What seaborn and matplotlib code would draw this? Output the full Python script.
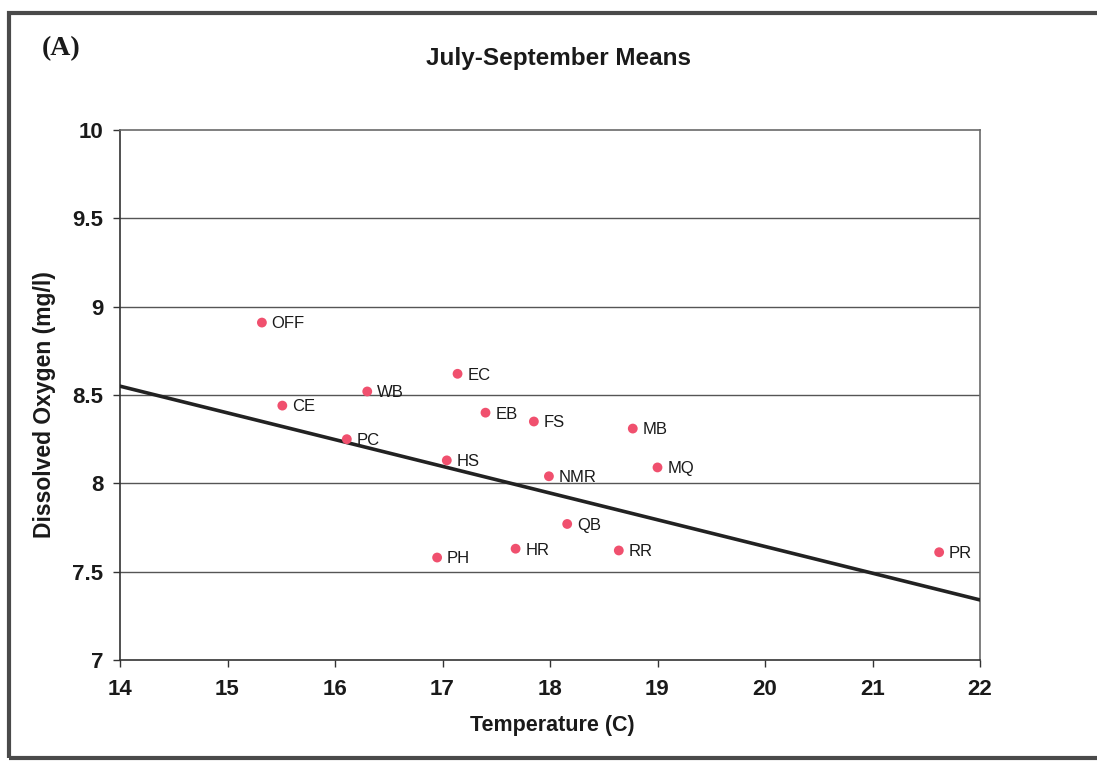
import matplotlib
matplotlib.use("Agg")
import matplotlib.pyplot as plt
import seaborn as sns
import pandas as pd
from matplotlib.patches import Rectangle

# Station means, July-September
stations = ["OFF", "CE", "PC", "WB", "PH", "HS", "EC", "EB", "HR",
            "FS", "NMR", "QB", "RR", "MB", "MQ", "PR"]
temperature = [15.32, 15.51, 16.11, 16.30, 16.95, 17.04, 17.14, 17.40, 17.68,
               17.85, 17.99, 18.16, 18.64, 18.77, 19.00, 21.62]
dissolved_oxygen = [8.91, 8.44, 8.25, 8.52, 7.58, 8.13, 8.62, 8.40, 7.63,
                    8.35, 8.04, 7.77, 7.62, 8.31, 8.09, 7.61]

# Linear trend line end points
trend_temp = [14, 22]
trend_do = [8.55, 7.34]

x_ticks = [14, 15, 16, 17, 18, 19, 20, 21, 22]
y_ticks = [7, 7.5, 8, 8.5, 9, 9.5, 10]
y_tick_labels = ["7", "7.5", "8", "8.5", "9", "9.5", "10"]

df = pd.DataFrame({"station": stations, "temp": temperature, "do": dissolved_oxygen})
trend = pd.DataFrame({"temp": trend_temp, "do": trend_do})

sns.set_theme(style="ticks")
plt.rcParams["font.family"] = ["Liberation Sans", "DejaVu Sans"]

W, H = 1097, 765
fig = plt.figure(figsize=(W / 100, H / 100), dpi=100)
fig.patch.set_facecolor("white")

ax = fig.add_axes([120 / W, 1 - 660 / H, 860 / W, 530 / H])

ax.set_xlim(14, 22)
ax.set_ylim(7, 10)

# horizontal grid lines
for yv in y_ticks[1:-1]:
    ax.axhline(yv, color="#555555", lw=1.0, zorder=1)

sns.lineplot(data=trend, x="temp", y="do", ax=ax, color="#222222", lw=2.6, zorder=3)
sns.scatterplot(data=df, x="temp", y="do", ax=ax, color="#F0506E",
                s=50, edgecolor="none", zorder=4)

for name, xv, yv in zip(stations, temperature, dissolved_oxygen):
    ax.annotate(name, (xv, yv), xytext=(7, -1), textcoords="offset points",
                ha="left", va="center", fontsize=12, color="#1a1a1a", zorder=5)

ax.set_xticks(x_ticks)
ax.set_xticklabels([str(t) for t in x_ticks])
ax.set_yticks(y_ticks)
ax.set_yticklabels(y_tick_labels)
ax.tick_params(axis="both", which="major", direction="out", length=5, width=1,
               color="#333333", labelsize=16, labelcolor="#1a1a1a",
               bottom=True, left=True, top=False, right=False)
ax.tick_params(axis="x", pad=9)
ax.tick_params(axis="y", pad=7)
for lbl in ax.get_xticklabels() + ax.get_yticklabels():
    lbl.set_fontweight("bold")

ax.set_xlabel("")
ax.set_ylabel("")

for side in ["left", "bottom"]:
    ax.spines[side].set_visible(True)
    ax.spines[side].set_color("#333333")
    ax.spines[side].set_linewidth(1.2)
for side in ["top", "right"]:
    ax.spines[side].set_visible(True)
    ax.spines[side].set_color("#6a6a6a")
    ax.spines[side].set_linewidth(1.2)

fig.text(552 / W, 1 - 726 / H, "Temperature (C)", ha="center", va="center",
         fontsize=15.5, fontweight="bold", color="#1a1a1a")
fig.text(45 / W, 1 - 405 / H, "Dissolved Oxygen (mg/l)", ha="center", va="center",
         rotation=90, fontsize=16.5, fontweight="bold", color="#1a1a1a")
fig.text(559 / W, 1 - 58 / H, "July-September Means", ha="center", va="center",
         fontsize=17.5, fontweight="bold", color="#1a1a1a")
fig.text(61 / W, 1 - 49 / H, "(A)", ha="center", va="center", fontsize=20,
         fontweight="bold", family=["Liberation Serif", "DejaVu Serif"], color="#1a1a1a")

# outer frame around the figure panel
fig.patches.append(Rectangle((9 / W, 1 - 758 / H), (W + 20) / W, 745 / H,
                             transform=fig.transFigure, fill=False,
                             edgecolor="#4a4a4a", lw=3.0, zorder=0))

fig.savefig("out.png", dpi=100, facecolor="white")
